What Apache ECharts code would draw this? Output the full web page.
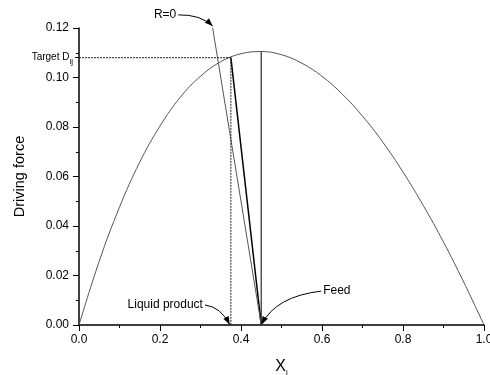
<!DOCTYPE html>
<html>
<head>
<meta charset="utf-8">
<script src="https://cdn.jsdelivr.net/npm/echarts@6/dist/echarts.min.js"></script>
<style>
  html, body { margin: 0; padding: 0; background: #fff; }
  #main { width: 490px; height: 375px; }
</style>
</head>
<body>
<div id="main"></div>
<script>
// driving force curve
const curveX = [0, 0.05, 0.1, 0.15, 0.2, 0.25, 0.3, 0.35, 0.4, 0.45, 0.5, 0.55, 0.6, 0.65, 0.7, 0.75, 0.8, 0.85, 0.9, 0.95, 1.0]
const curveY = [0, 0.0258, 0.0476, 0.0658, 0.0804, 0.0920, 0.1005, 0.1064, 0.1096, 0.1105, 0.1092, 0.1058, 0.1005, 0.0933, 0.0844, 0.0739, 0.0618, 0.0483, 0.0335, 0.0173, 0]

// feed point and its lines
const feedX = 0.45
const feedTop = 0.1105
const targetPt = [0.375, 0.108]
const rZeroPt = [0.33, 0.12]

// annotations: text, arrow start, control point, arrow tip (data units)
const notes = [
    {text: 'R=0', side: 'left', from: [0.245, 0.1253], ctrl: [0.300, 0.1255], to: [0.330, 0.1208]},
    {text: 'Liquid product', side: 'left', from: [0.311, 0.0081], ctrl: [0.350, 0.0073], to: [0.372, 0.0002]},
    {text: 'Feed', side: 'right', from: [0.598, 0.0137], ctrl: [0.485, 0.0115], to: [0.451, 0.0002]}
]

const chart = echarts.init(document.getElementById('main'))
const font = 'Liberation Sans, Arial, sans-serif'
const axisColor = '#000'

const option = {
    animation: false,
    grid: {left: 79, right: 6, top: 28, bottom: 50, outerBoundsMode: 'none'},
    xAxis: {
        type: 'value',
        min: 0, max: 1.0, interval: 0.2,
        name: '{a|X}{b|i}',
        nameLocation: 'middle',
        nameGap: 32,
        nameTextStyle: {
            rich: {
                a: {fontSize: 16, fontFamily: font, color: '#000'},
                b: {fontSize: 8, fontFamily: font, color: '#000', padding: [12, 0, 0, 0]}
            }
        },
        axisLine: {lineStyle: {color: axisColor, width: 1.5}},
        axisTick: {show: true, length: 6, inside: false, lineStyle: {color: axisColor, width: 1}},
        minorTick: {show: true, splitNumber: 2, length: 3, lineStyle: {color: axisColor}},
        axisLabel: {fontSize: 12, fontFamily: font, color: '#000', margin: 9, formatter: v => v.toFixed(1)},
        splitLine: {show: false}
    },
    yAxis: [{
        type: 'value',
        min: 0, max: 0.12, interval: 0.02,
        name: 'Driving force',
        nameLocation: 'middle',
        nameGap: 52,
        nameTextStyle: {fontSize: 14.5, fontFamily: font, color: '#000'},
        axisLine: {show: true, lineStyle: {color: axisColor, width: 1.5}},
        axisTick: {show: true, length: 6, lineStyle: {color: axisColor, width: 1}},
        minorTick: {show: true, splitNumber: 2, length: 3, lineStyle: {color: axisColor}},
        axisLabel: {fontSize: 12, fontFamily: font, color: '#000', margin: 10, formatter: v => v.toFixed(2)},
        splitLine: {show: false}
    }, {
        type: 'value',
        position: 'left',
        min: 0, max: 0.12,
        axisLine: {show: false},
        axisTick: {show: true, length: 4, customValues: [targetPt[1]], lineStyle: {color: axisColor}},
        axisLabel: {
            show: true, customValues: [targetPt[1]], margin: 6,
            formatter: () => '{a|Target D}{b|ij}',
            rich: {
                a: {fontSize: 10, fontFamily: font, color: '#000'},
                b: {fontSize: 8, fontFamily: font, color: '#000', padding: [8, 0, 0, 0]}
            }
        },
        splitLine: {show: false}
    }],
    series: [
        {
            type: 'line',
            data: curveX.map((x, i) => [x, curveY[i]]),
            smooth: 0.4,
            symbol: 'none',
            lineStyle: {color: '#555', width: 1}
        },
        {
            type: 'line',
            data: [[feedX, 0], [feedX, feedTop]],
            symbol: 'none',
            lineStyle: {color: '#555', width: 1.5}
        },
        {
            type: 'line',
            data: [[feedX, 0], targetPt],
            symbol: 'none',
            lineStyle: {color: '#000', width: 1.5}
        },
        {
            type: 'line',
            data: [[feedX, 0], rZeroPt],
            symbol: 'none',
            lineStyle: {color: '#555', width: 1}
        },
        {
            type: 'line',
            data: [[0, targetPt[1]], targetPt, [targetPt[0], 0]],
            symbol: 'none',
            lineStyle: {color: '#222', width: 1, type: [2, 1]}
        }
    ]
}
chart.setOption(option)

// arrows drawn in pixel space from the data positions above
const px = p => chart.convertToPixel({gridIndex: 0}, p)
const elements = []
notes.forEach(n => {
    const a = px(n.from), c = px(n.ctrl), b = px(n.to)
    elements.push({
        type: 'bezierCurve',
        shape: {x1: a[0], y1: a[1], cpx1: c[0], cpy1: c[1], x2: b[0], y2: b[1]},
        style: {stroke: '#000', lineWidth: 1, fill: null},
        silent: true
    })
    const dx = b[0] - c[0], dy = b[1] - c[1]
    const len = Math.sqrt(dx * dx + dy * dy)
    const ux = dx / len, uy = dy / len
    const hl = 8, hw = 3
    elements.push({
        type: 'polygon',
        shape: {points: [
            [b[0], b[1]],
            [b[0] - ux * hl - uy * hw, b[1] - uy * hl + ux * hw],
            [b[0] - ux * hl + uy * hw, b[1] - uy * hl - ux * hw]
        ]},
        style: {fill: '#000'},
        silent: true
    })
    elements.push({
        type: 'text',
        x: n.side === 'left' ? a[0] - 2 : a[0] + 2,
        y: a[1],
        style: {
            text: n.text, font: '12px ' + font, fill: '#000',
            align: n.side === 'left' ? 'right' : 'left', verticalAlign: 'middle'
        },
        silent: true
    })
})
chart.setOption({graphic: elements})
</script>
</body>
</html>
